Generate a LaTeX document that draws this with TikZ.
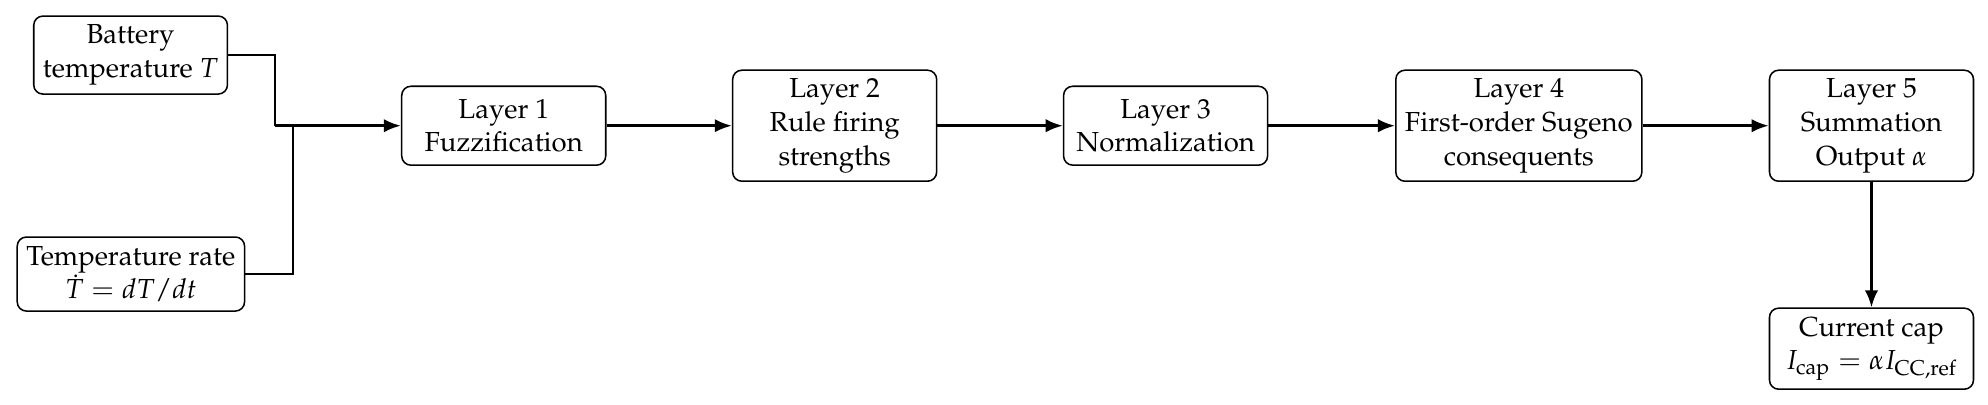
\documentclass[tikz,border=0pt]{standalone}
\usepackage[T1]{fontenc}
\usepackage{mathpazo}
\usepackage{amsmath}
\usetikzlibrary{arrows.meta}
\begin{document}
\begin{tikzpicture}[x=1pt,y=1pt,
  box/.style={draw, rounded corners=3pt, line width=0.5pt, align=center, font=\small, inner xsep=3pt, inner ysep=2pt},
  layer/.style={box, minimum width=66.7pt},
  conn/.style={line width=0.9pt, -{Latex[length=5.6pt,width=4.4pt]}},
  wire/.style={line width=0.9pt}]
\useasboundingbox (0,0) rectangle (650,-132.1);
\node[box, minimum height=25.5pt] (bt) at (42.7,-18.0) {Battery\\temperature $T$};
\node[box, minimum height=24.2pt] (tr) at (42.8,-89.6) {Temperature rate\\$\dot{T} = dT/dt$};
\node[layer, minimum height=25.8pt] (l1) at (164.7,-41.1) {Layer 1\\Fuzzification};
\node[layer, minimum height=36.3pt] (l2) at (272.9,-41.1) {Layer 2\\Rule firing\\strengths};
\node[layer, minimum height=25.8pt] (l3) at (381.1,-41.1) {Layer 3\\Normalization};
\node[layer, minimum height=36.3pt] (l4) at (496.6,-41.1) {Layer 4\\First-order Sugeno\\consequents};
\node[layer, minimum height=36.3pt] (l5) at (611.9,-41.1) {Layer 5\\Summation\\Output $\alpha$};
\node[layer, minimum height=26.5pt] (cc) at (611.9,-114.0) {Current cap\\$I_{\text{cap}} = \alpha I_{\text{CC,ref}}$};
\coordinate (j1) at (89.9,-41.1);
\coordinate (j2) at (95.8,-41.1);
\draw[wire] (bt.east) -| (j1);
\draw[wire] (tr.east) -| (j2);
\draw[conn] (j1) -- (l1.west);
\draw[conn] (l1) -- (l2);
\draw[conn] (l2) -- (l3);
\draw[conn] (l3) -- (l4);
\draw[conn] (l4) -- (l5);
\draw[conn] (l5) -- (cc);
\end{tikzpicture}
\end{document}
